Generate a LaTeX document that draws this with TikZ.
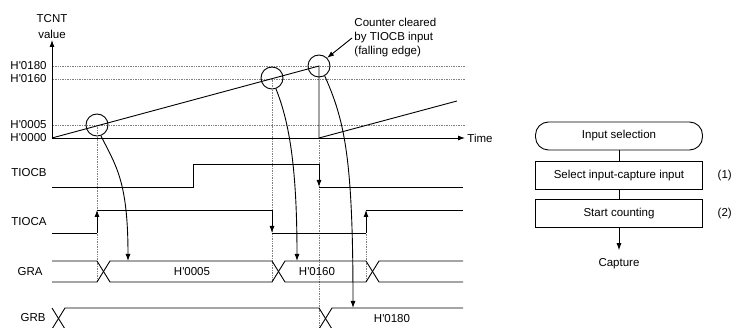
\documentclass[tikz,border=0pt]{standalone}
\usepackage{fontspec}
\setmainfont{Liberation Sans}[Ligatures=TeXOff]
\usetikzlibrary{arrows.meta,positioning}
\tikzset{
  arr/.style={-{Latex[length=7pt,width=5pt]}},
  guide/.style={gray,densely dotted,line width=0.7pt},
  ring/.style={circle,draw,minimum size=22pt,inner sep=0pt},
  lbl/.style={anchor=east,inner sep=1pt},
  stepbox/.style={draw,minimum width=167pt,minimum height=28pt},
}
\begin{document}
\begin{tikzpicture}[x=1pt,y=-1pt,line width=0.9pt,font=\fontsize{11.5}{14}\selectfont]
  \useasboundingbox (0,0) rectangle (731,328);
  \def\xE{463}                % right end of the waveforms
  \def\bL{187} \def\bH{164}   % TIOCB low / high
  \def\aL{233} \def\aH{210}   % TIOCA low / high
  \def\gT{261} \def\gB{282}   % GRA bus
  \def\rT{308} \def\rB{329}   % GRB bus
  % axes
  \coordinate (o) at (52,138);
  \coordinate (ytop) at (52,40);
  \coordinate (xend) at (465,138);
  \node[align=center,anchor=south,inner sep=1pt] (ylbl) at (ytop) {TCNT\\[2pt]value};
  \node[anchor=west,inner sep=2pt] (tlbl) at (xend) {Time};
  % levels
  \node[lbl] (h180) at (48,66) {H'0180};
  \node[lbl] (h160) at (48,79) {H'0160};
  \node[lbl] (h005) at (48,125) {H'0005};
  \node[lbl] (h000) at (48,138) {H'0000};
  \foreach \y in {66,79,125} \draw[guide] (53,\y) -- (465,\y);
  % capture points
  \node[ring] (c1) at (97,125) {};
  \node[ring] (c2) at (272,78) {};
  \node[ring] (c3) at (319,66) {};
  \draw[guide] (c1.center) -- (97,\gB);
  \draw[guide] (c2.center) -- (272,\gB);
  \draw[guide] (o -| c3) -- (319,328);
  \draw[guide] (366,\aH) -- (366,\gB);
  \draw[arr] (o) -- (ytop);
  \draw[arr] (o) -- (xend);
  % counter ramp, cleared at c3
  \draw (o) -- (c3.center) -- (o -| c3) -- (457,101);
  \node[align=left,anchor=west,inner sep=2pt] (note) at (352,38) {Counter cleared\\by TIOCB input\\(falling edge)};
  \draw[arr] (note.west) -- (c3.45);
  % signal names
  \node[lbl] (sB) at (48,173) {TIOCB};
  \node[lbl] (sA) at (48,222) {TIOCA};
  \node[lbl] (gA) at (44,272) {GRA};
  \node[lbl] (gR) at (47,318) {GRB};
  % TIOCB
  \draw (52,\bL) -- (193,\bL) -- (193,\bH) -- (319,\bH);
  \draw[arr] (319,\bH) -- (319,\bL);
  \draw (319,\bL) -- (\xE,\bL);
  % TIOCA
  \draw (52,\aL) -- (97,\aL);
  \draw[arr] (97,\aL) -- (97,\aH);
  \draw (97,\aH) -- (272,\aH);
  \draw[arr] (272,\aH) -- (272,\aL);
  \draw (272,\aL) -- (366,\aL);
  \draw[arr] (366,\aL) -- (366,\aH);
  \draw (366,\aH) -- (\xE,\aH);
  % GRA
  \draw (52,\gT) -- (97,\gT) -- (110,\gB) -- (272,\gB) -- (285,\gT) -- (366,\gT) -- (379,\gB) -- (\xE,\gB);
  \draw (52,\gB) -- (97,\gB) -- (110,\gT) -- (272,\gT) -- (285,\gB) -- (366,\gB) -- (379,\gT) -- (\xE,\gT);
  \node (v1) at (192,272) {H'0005};
  \node (v2) at (317,272) {H'0160};
  % GRB
  \draw (52,\rT) -- (65,\rB) -- (319,\rB) -- (332,\rT) -- (\xE,\rT);
  \draw (52,\rB) -- (65,\rT) -- (319,\rT) -- (332,\rB) -- (\xE,\rB);
  \node (v3) at (392,319) {H'0180};
  % transfers into the registers
  \coordinate (t1) at (128,\gT);
  \coordinate (t2) at (297,\gT);
  \coordinate (t3) at (353,\rT);
  \draw[arr] (c1.-70) .. controls +(15,30) and +(0,-80) .. (t1);
  \draw[arr] (c2.-70) .. controls +(12,30) and +(0,-100) .. (t2);
  \draw[arr] (c3.-60) .. controls +(20,45) and +(0,-150) .. (t3);
  % flow chart
  \node[stepbox,rounded corners=13pt] (sel) at (619,136) {Input selection};
  \node[stepbox,below=11pt of sel] (pick) {Select input-capture input};
  \node[stepbox,below=9pt of pick] (cnt) {Start counting};
  \node[right=11pt of pick] (n1) {(1)};
  \node[right=11pt of cnt] (n2) {(2)};
  \node[below=22pt of cnt,inner ysep=8pt] (cap) {Capture};
  \draw (sel) -- (pick);
  \draw (pick) -- (cnt);
  \draw[arr] (cnt) -- (cap);
\end{tikzpicture}
\end{document}
